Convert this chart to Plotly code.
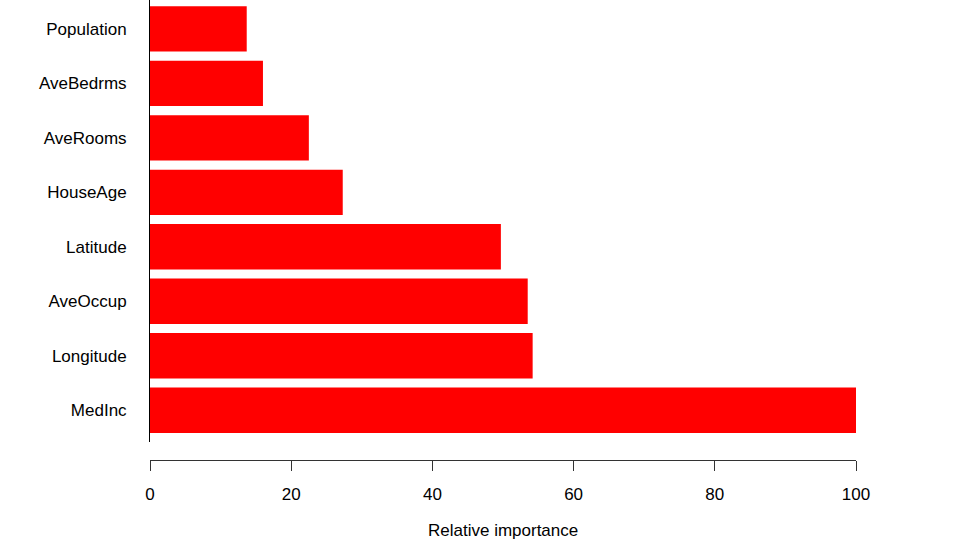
import plotly.graph_objects as go

features = ["MedInc", "Longitude", "AveOccup", "Latitude", "HouseAge", "AveRooms", "AveBedrms", "Population"]
importance = [100.0, 54.2, 53.5, 49.7, 27.3, 22.5, 16.0, 13.7]
x_ticks = [0, 20, 40, 60, 80, 100]
x_title = "Relative importance"

W, H = 961, 542
FONT = "Liberation Sans, Arial, sans-serif"
FS = 17

fig = go.Figure(go.Bar(
    x=importance, y=features, orientation="h",
    marker=dict(color="#ff0000", line=dict(width=0)),
    hoverinfo="x+y",
))

plot_bottom_px = 442
axis_px = 459.5

fig.update_layout(
    width=W, height=H,
    margin=dict(l=150, r=105, t=0, b=0, pad=0),
    paper_bgcolor="white", plot_bgcolor="white",
    bargap=0.1667,
    showlegend=False,
    font=dict(family=FONT, size=FS, color="black"),
    xaxis=dict(
        range=[0, 100], tickvals=x_ticks, ticktext=[str(v) for v in x_ticks],
        showgrid=False, zeroline=False, showline=True, linecolor="#333333", linewidth=1,
        ticks="outside", ticklen=10, tickcolor="#333333", tickwidth=1,
        anchor="free", position=(H - axis_px) / H,
        ticklabelstandoff=9,
        tickfont=dict(family=FONT, size=FS, color="black"),
    ),
    yaxis=dict(
        domain=[(H - plot_bottom_px) / H, 1],
        range=[-0.582, 7.53],
        showgrid=False, zeroline=False, showline=True, linecolor="black", linewidth=1,
        ticks="", ticklabelstandoff=19,
        tickfont=dict(family=FONT, size=FS, color="black"),
    ),
    annotations=[dict(
        text=x_title, xref="paper", yref="paper", x=0.5, y=(H - 530) / H,
        xanchor="center", yanchor="middle", showarrow=False,
        font=dict(family=FONT, size=FS, color="black"),
    )],
)

fig.write_html(
    "out.html",
    config={"displayModeBar": False},
    post_script="document.body.style.margin='0';document.body.style.overflow='hidden';",
)
